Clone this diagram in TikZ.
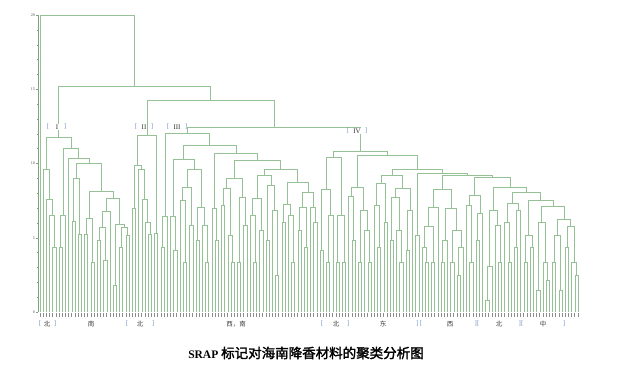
\documentclass[tikz,border=0pt]{standalone}
\usepackage{fontspec}
\setmainfont{Liberation Serif}
\newfontfamily\cjk[AutoFakeBold=2]{Noto Sans CJK SC}
\definecolor{dgc}{RGB}{150,192,150}
\definecolor{axc}{RGB}{125,165,125}
\definecolor{brc}{RGB}{120,150,205}
\tikzset{
  dg/.style={draw=dgc, line width=0.6pt},
  lbl/.style={draw=black!45, line width=0.8pt},
  axl/.style={draw=axc, line width=0.8pt},
  brk/.style={text=brc, font=\fontsize{7}{7}\selectfont, inner sep=0pt},
  grp/.style={text=black!75, font=\cjk\fontsize{6.5}{7}\selectfont, inner sep=0pt},
  rom/.style={text=black!80, font=\fontsize{7}{7}\selectfont, fill=white, inner sep=0.6pt},
  tkl/.style={text=black!70, font=\fontsize{4}{4}\selectfont, anchor=east, inner sep=0.5pt}
}
\newcount\leafc
\newif\ifdgdraw
\def\lf{\global\advance\leafc by 1\relax
  \ifdgdraw
    \pgfmathsetmacro\lxx{40+(\the\leafc-1)*\lsp}%
    \draw[lbl] (\lxx,313) -- (\lxx,316.5);
    \xdef\rx{\lxx}%
  \else\xdef\rx{0}\fi
  \xdef\ry{312}}
\def\nd#1#2#3{\begingroup
  #2\let\ax\rx\let\ay\ry
  #3\let\bx\rx\let\by\ry
  \ifdgdraw\draw[dg] (\ax,\ay) |- (\bx,#1) -- (\bx,\by);\fi
  \pgfmathsetmacro\mx{(\ax+\bx)/2}%
  \xdef\rx{\mx}\xdef\ry{#1}\endgroup}
\def\pa#1{\nd{#1}{\lf}{\lf}}
\def\lpa#1#2{\nd{#1}{\lf}{\pa{#2}}}
\def\pal#1#2{\nd{#1}{\pa{#2}}{\lf}}
% ---- tree ----
\def\dgroot{\nd{15}{\lf}{\dgA}}
\def\dgA{\nd{86}{\dgI}{\dgB}}
\def\dgB{\nd{100}{\dgII}{\dgC}}
\def\dgC{\nd{127}{\dgIII}{\dgIV}}
% cluster I
\def\dgI{\nd{137}{\dgIL}{\dgIR}}
\def\dgIL{\nd{169}{\lf}{\nd{199}{\lf}{\lpa{215}{247}}}}
\def\dgIR{\nd{148}{\pal{215}{247}}{\nd{158}{\lf}{\nd{163}{\dgIe}{\dgIf}}}}
\def\dgIe{\nd{178}{\pa{221}}{\pa{234}}}
\def\dgIf{\nd{191}{\nd{218}{\pa{234}}{\pa{262}}}{\nd{198}{\dgIi}{\dgIj}}}
\def\dgIi{\nd{211}{\nd{227}{\pa{240}}{\pa{260}}}{\lf}}
\def\dgIj{\nd{224}{\pa{285}}{\nd{227}{\pa{247}}{\pa{235}}}}
% cluster II
\def\dgII{\nd{135}{\nd{165}{\pa{208}}{\nd{169}{\lf}{\nd{199}{\lf}{\lpa{222}{234}}}}}{\pa{233}}}
% cluster III
\def\dgIII{\nd{133}{\pal{216}{247}}{\nd{145}{\dgIIIa}{\dgIIIb}}}
\def\dgIIIa{\nd{159}{\lpa{216}{250}}{\nd{169}{\nd{187}{\nd{200}{\lf}{\pa{262}}}{\pa{225}}}{\nd{207}{\pa{240}}{\lpa{225}{262}}}}}
\def\dgIIIb{\nd{153}{\lpa{208}{240}}{\nd{160}{\dgIIIc}{\nd{169}{\dgIIId}{\dgIIIe}}}}
\def\dgIIIc{\nd{178}{\nd{188}{\pa{205}}{\lpa{235}{262}}}{\nd{197}{\pa{262}}{\pa{225}}}}
\def\dgIIId{\nd{175}{\nd{198}{\nd{215}{\lf}{\pa{262}}}{\pa{230}}}{\nd{185}{\pa{240}}{\lpa{210}{275}}}}
\def\dgIIIe{\nd{182}{\nd{204}{\pa{222}}{\lpa{215}{262}}}{\nd{192}{\nd{207}{\pa{230}}{\pa{247}}}{\lpa{207}{222}}}}
% cluster IV
\def\dgIV{\nd{151}{\dgIVL}{\nd{155}{\dgIVa}{\nd{169}{\dgIVc}{\nd{173}{\pa{235}}{\nd{175}{\dgIVf}{\nd{177}{\dgIVg}{\dgRa}}}}}}}
\def\dgIVL{\nd{157}{\nd{189}{\pa{250}}{\nd{215}{\pa{262}}{\lf}}}{\nd{215}{\pa{262}}{\pa{262}}}}
\def\dgIVa{\nd{187}{\nd{196}{\lf}{\pa{240}}}{\nd{210}{\pa{262}}{\lpa{230}{262}}}}
\def\dgIVc{\nd{175}{\nd{183}{\nd{205}{\lf}{\pa{247}}}{\pa{222}}}{\nd{188}{\nd{197}{\pa{240}}{\lpa{230}{262}}}{\pal{210}{250}}}}
\def\dgIVf{\nd{189}{\nd{207}{\nd{226}{\nd{247}{\lf}{\pa{262}}}{\pa{262}}}{\lf}}{\nd{208}{\nd{240}{\pa{262}}{\lf}}{\nd{230}{\pa{262}}{\pal{247}{275}}}}}
\def\dgIVg{\nd{195}{\nd{205}{\lf}{\pa{262}}}{\nd{213}{\pa{240}}{\lf}}}
\def\dgRa{\nd{187}{\nd{210}{\nd{266}{\pa{300}}{\lf}}{\lpa{225}{262}}}{\dgRb}}
\def\dgRb{\nd{192}{\nd{203}{\nd{222}{\lf}{\pa{262}}}{\pal{210}{247}}}{\dgRc}}
\def\dgRc{\nd{200}{\nd{235}{\pa{262}}{\pa{247}}}{\nd{206}{\nd{222}{\pa{290}}{\lpa{262}{280}}}{\dgRd}}}
\def\dgRd{\nd{219}{\nd{235}{\pa{262}}{\pa{290}}}{\nd{226}{\pa{247}}{\lpa{262}{275}}}}
\begin{document}
\begin{tikzpicture}[x=1pt,y=-1pt]
\useasboundingbox[fill=white] (0,0) rectangle (620,380);
% axis
\draw[axl] (38,15) -- (38,312);
\foreach \k in {0,...,20}{\draw[axl,line width=0.4pt] (38,{312-\k*14.85}) -- (36.5,{312-\k*14.85});}
\foreach \v/\k in {0/0,5/5,10/10,15/15,20/20}{\draw[axl,line width=0.5pt] (38,{312-\k*14.85}) -- (35.5,{312-\k*14.85});
  \node[tkl] (t\v) at (35.5,{312-\k*14.85}) {\v};}
% dendrogram: pass 1 counts leaves, pass 2 draws
\dgdrawfalse\global\leafc=0 \dgroot
\pgfmathsetmacro\lsp{538/(\the\leafc-1)}
\global\leafc=0 \dgdrawtrue \dgroot
% cluster labels
\node[rom] (rI) at (57,127) {I};
\node[brk] (bI1) at (48,127) {[};
\node[brk] (bI2) at (65,127) {]};
\node[rom] (rII) at (144,127) {II};
\node[brk] (bII1) at (136,127) {[};
\node[brk] (bII2) at (152,127) {]};
\node[rom] (rIII) at (177,127) {III};
\node[brk] (bIII1) at (168,127) {[};
\node[brk] (bIII2) at (186,127) {]};
\node[rom] (rIV) at (357,131) {IV};
\node[brk] (bIV1) at (348,131) {[};
\node[brk] (bIV2) at (366,131) {]};
% region labels
\node[brk] (g1) at (40,324) {[};
\node[grp] (n1) at (47,324) {北};
\node[brk] (g2) at (55,324) {]};
\node[grp] (n2) at (91,324) {南};
\node[brk] (g3) at (127,324) {[};
\node[grp] (n3) at (140,324) {北};
\node[brk] (g4) at (153,324) {]};
\node[grp] (n4) at (236,324) {西，南};
\node[brk] (g5) at (322,324) {[};
\node[grp] (n5) at (336,324) {北};
\node[brk] (g6) at (348,324) {]};
\node[grp] (n6) at (383,324) {东};
\node[brk] (g7) at (419,324) {]\,[};
\node[grp] (n7) at (450,324) {西};
\node[brk] (g8) at (477,324) {][};
\node[grp] (n8) at (499,324) {北};
\node[brk] (g9) at (521,324) {][};
\node[grp] (n9) at (543,324) {中};
\node[brk] (g10) at (564,324) {]};
% caption
\node[inner sep=0pt] (cap) at (306,353) {\fontsize{11.5}{13}\selectfont\bfseries SRAP {\cjk\fontsize{13.5}{15}\selectfont\bfseries 标记对海南降香材料的聚类分析图}};
\end{tikzpicture}
\end{document}
